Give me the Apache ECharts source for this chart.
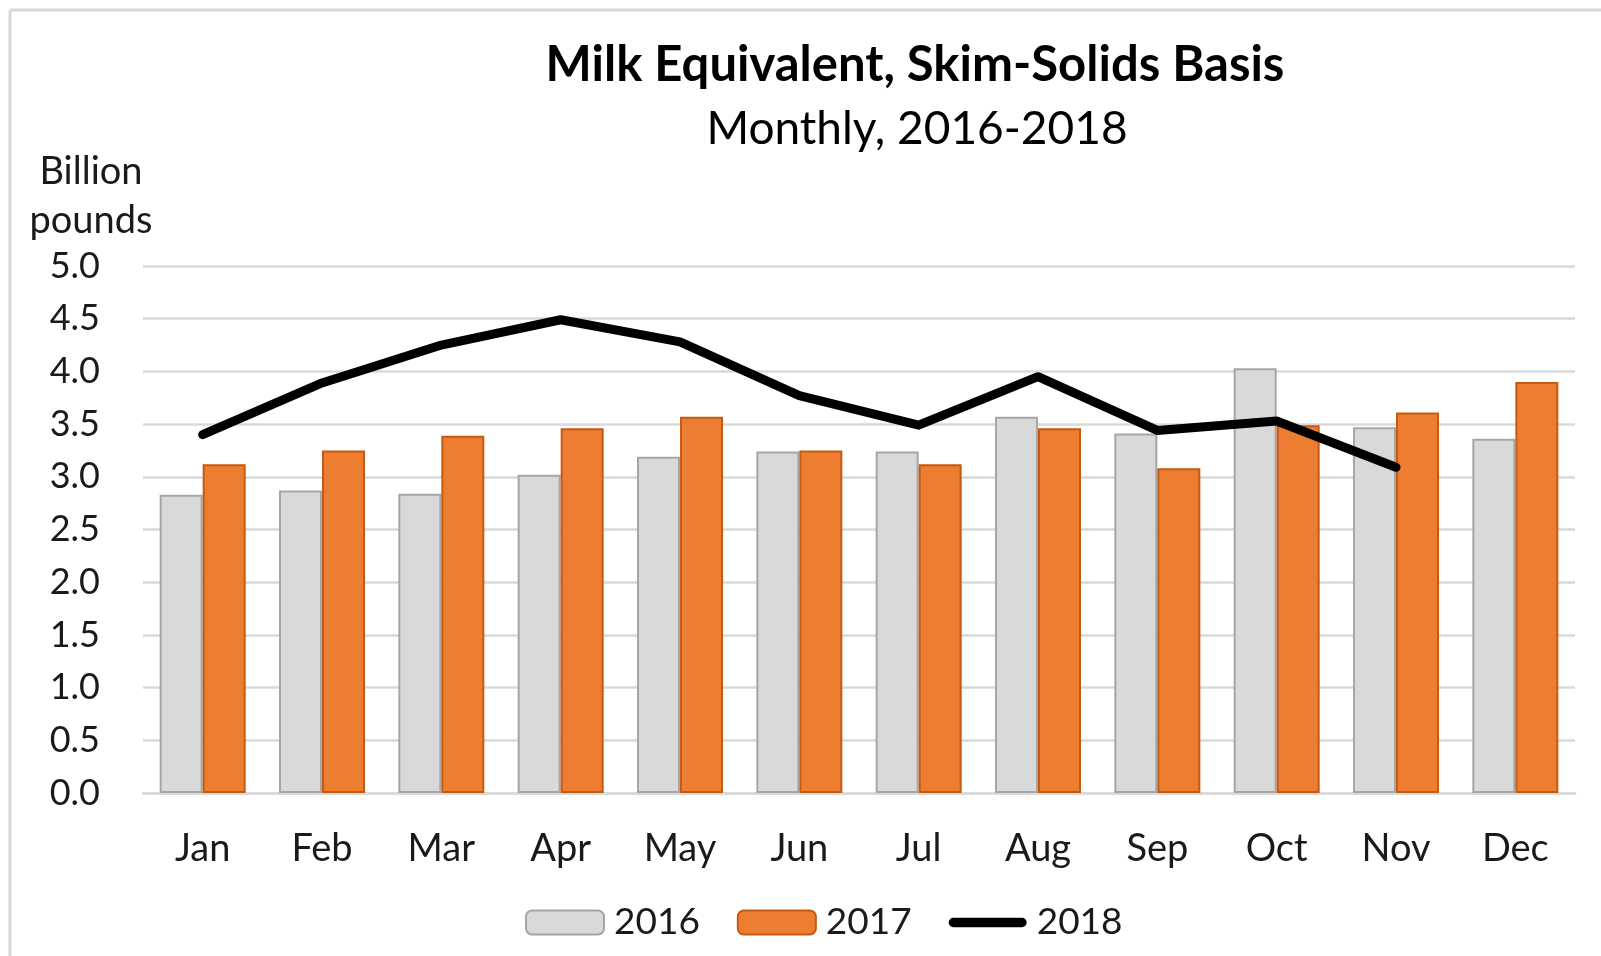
<!DOCTYPE html>
<html>
<head>
<meta charset="utf-8">
<script src="https://cdn.jsdelivr.net/npm/echarts@6/dist/echarts.min.js"></script>
<style>
  html, body { margin: 0; padding: 0; background: #fff; }
  #chart { width: 1601px; height: 956px; }
</style>
</head>
<body>
<div id="chart"></div>
<script>
var months = ["Jan", "Feb", "Mar", "Apr", "May", "Jun", "Jul", "Aug", "Sep", "Oct", "Nov", "Dec"];
var y2016 = [2.83, 2.87, 2.84, 3.02, 3.19, 3.24, 3.24, 3.57, 3.41, 4.03, 3.47, 3.36];
var y2017 = [3.12, 3.25, 3.39, 3.46, 3.57, 3.25, 3.12, 3.46, 3.08, 3.49, 3.61, 3.90];
var y2018 = [3.40, 3.89, 4.25, 4.49, 4.28, 3.77, 3.49, 3.95, 3.44, 3.53, 3.09, null];
var yTicks = ["0.0", "0.5", "1.0", "1.5", "2.0", "2.5", "3.0", "3.5", "4.0", "4.5", "5.0"];

var font = "Lato";
var myChart = echarts.init(document.getElementById("chart"));
myChart.setOption({
  animation: false,
  textStyle: { fontFamily: font },
  title: [
    {
      text: "Milk Equivalent, Skim-Solids Basis",
      left: 915,
      textAlign: "center",
      top: 41,
      padding: 0,
      textStyle: { fontFamily: font, fontSize: 49, fontWeight: "bold", color: "#000" }
    },
    {
      text: "Monthly, 2016-2018",
      left: 917,
      textAlign: "center",
      top: 106,
      padding: 0,
      textStyle: { fontFamily: font, fontSize: 46, fontWeight: "normal", color: "#000" }
    },
    {
      text: "Billion\npounds",
      left: 91,
      textAlign: "center",
      top: 147,
      padding: 0,
      textStyle: { fontFamily: font, fontSize: 38, fontWeight: "normal", color: "#1a1a1a", lineHeight: 49 }
    }
  ],
  // chart frame (left and top edge visible)
  graphic: [
    { type: "line", shape: { x1: 10, y1: 10, x2: 1601, y2: 10 }, style: { stroke: "#d9d9d9", lineWidth: 3 } },
    { type: "line", shape: { x1: 10, y1: 10, x2: 10, y2: 956 }, style: { stroke: "#d9d9d9", lineWidth: 3 } }
  ],
  legend: {
    left: 520,
    top: 899,
    itemWidth: 78,
    itemHeight: 24,
    itemGap: 37,
    textStyle: { fontFamily: font, fontSize: 37, color: "#1a1a1a", padding: [0, 0, 0, 5] },
    data: [
      "2016",
      "2017",
      {
        name: "2018",
        icon: "path://M5,0 L79,0 A5,5 0 0 1 79,10 L5,10 A5,5 0 0 1 5,0 Z",
        itemStyle: { color: "#000", borderWidth: 0 }
      }
    ]
  },
  grid: { left: 143, right: 26, top: 266, bottom: 163 },
  xAxis: {
    type: "category",
    data: months,
    axisLine: { show: true, lineStyle: { color: "#d9d9d9", width: 2.5 } },
    axisTick: { show: false },
    axisLabel: { fontFamily: font, fontSize: 38, color: "#1a1a1a", margin: 37 }
  },
  yAxis: {
    type: "value",
    min: 0,
    max: 5,
    interval: 0.5,
    axisLine: { show: false },
    axisTick: { show: false },
    axisLabel: {
      fontFamily: font, fontSize: 36, color: "#1a1a1a", margin: 43,
      formatter: function (v) { return yTicks[Math.round(v * 2)]; }
    },
    splitLine: { show: true, lineStyle: { color: "#d9d9d9", width: 2.5 } }
  },
  series: [
    {
      name: "2016",
      type: "bar",
      data: y2016,
      barWidth: 43,
      barGap: "0%",
      itemStyle: { color: "#d9d9d9", borderColor: "#a6a6a6", borderWidth: 2 }
    },
    {
      name: "2017",
      type: "bar",
      data: y2017,
      barWidth: 43,
      barGap: "0%",
      itemStyle: { color: "#ed7d31", borderColor: "#c55a11", borderWidth: 2 }
    },
    {
      name: "2018",
      type: "line",
      data: y2018,
      symbol: "none",
      z: 5,
      lineStyle: { color: "#000", width: 9, cap: "round", join: "round" },
      itemStyle: { color: "#000" }
    }
  ]
});
</script>
</body>
</html>
